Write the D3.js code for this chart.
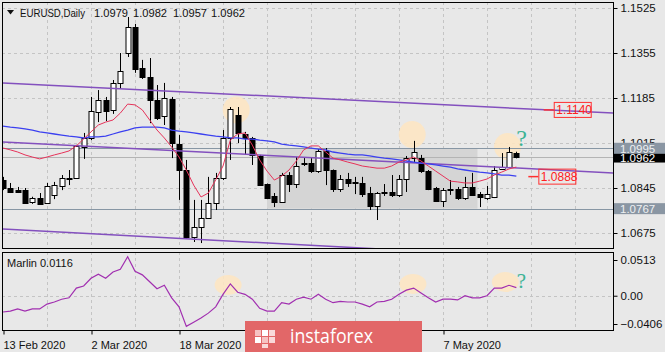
<!DOCTYPE html>
<html>
<head>
<meta charset="utf-8">
<script src="https://cdn.jsdelivr.net/npm/d3@7"></script>
<style>
  body { margin: 0; background: #e8e8e8; }
  svg { display: block; font-family: "Liberation Sans", Arial, sans-serif; }
</style>
</head>
<body>
<div id="chart"></div>
<script>
// EURUSD daily candles with two moving averages, a price channel and the Marlin oscillator.
const WIDTH = 665, HEIGHT = 352;

const dates = [
  "2020-02-13","2020-02-14","2020-02-17","2020-02-18","2020-02-19","2020-02-20","2020-02-21",
  "2020-02-24","2020-02-25","2020-02-26","2020-02-27","2020-02-28",
  "2020-03-02","2020-03-03","2020-03-04","2020-03-05","2020-03-06",
  "2020-03-09","2020-03-10","2020-03-11","2020-03-12","2020-03-13",
  "2020-03-16","2020-03-17","2020-03-18","2020-03-19","2020-03-20",
  "2020-03-23","2020-03-24","2020-03-25","2020-03-26","2020-03-27",
  "2020-03-30","2020-03-31","2020-04-01","2020-04-02","2020-04-03",
  "2020-04-06","2020-04-07","2020-04-08","2020-04-09","2020-04-10",
  "2020-04-13","2020-04-14","2020-04-15","2020-04-16","2020-04-17",
  "2020-04-20","2020-04-21","2020-04-22","2020-04-23","2020-04-24",
  "2020-04-27","2020-04-28","2020-04-29","2020-04-30","2020-05-01",
  "2020-05-04","2020-05-05","2020-05-06","2020-05-07","2020-05-08",
  "2020-05-11","2020-05-12","2020-05-13","2020-05-14","2020-05-15",
  "2020-05-18","2020-05-19","2020-05-20","2020-05-21"
];

const opens = [
  1.0875,1.0845,1.0837,1.0837,1.0792,1.0807,1.0788,1.0819,1.0853,1.0881,
  1.0883,1.1000,1.1034,1.1132,1.1177,1.1140,1.1242,1.1355,1.1453,1.1298,
  1.1264,1.1177,1.1117,1.1181,1.1011,1.0913,1.0660,1.0698,1.0732,1.0788,
  1.0883,1.1034,1.1121,1.1049,1.1034,1.0966,1.0860,1.0815,1.0792,1.0894,
  1.0860,1.0938,1.0939,1.0909,1.0985,1.0913,1.0841,1.0879,1.0864,1.0864,
  1.0826,1.0777,1.0828,1.0830,1.0819,1.0879,1.0958,1.0958,1.0909,1.0845,
  1.0796,1.0841,1.0841,1.0807,1.0849,1.0822,1.0807,1.0811,1.0917,1.0924,
  1.0979
];
const highs = [
  1.0887,1.0864,1.0849,1.0845,1.0812,1.0826,1.0864,1.0868,1.0894,1.0913,
  1.1008,1.1053,1.1189,1.1215,1.1189,1.1253,1.1355,1.1491,1.1465,1.1329,
  1.1336,1.1234,1.1242,1.1189,1.1045,1.0951,1.0800,1.0800,1.0887,1.0902,
  1.1064,1.1151,1.1151,1.1057,1.1038,1.0970,1.0862,1.0826,1.0902,1.0905,
  1.0962,1.0958,1.0958,1.0992,1.0996,1.0915,1.0894,1.0902,1.0887,1.0887,
  1.0849,1.0830,1.0860,1.0894,1.0894,1.0966,1.1023,1.0970,1.0913,1.0849,
  1.0845,1.0875,1.0849,1.0887,1.0902,1.0830,1.0853,1.0928,1.0977,1.1000,
  1.0982
];
const lows = [
  1.0837,1.0826,1.0826,1.0785,1.0785,1.0781,1.0785,1.0803,1.0837,1.0856,
  1.0879,1.0955,1.1026,1.1094,1.1098,1.1125,1.1219,1.1340,1.1280,1.1257,
  1.1090,1.1102,1.1083,1.0958,1.0800,1.0653,1.0641,1.0637,1.0728,1.0762,
  1.0875,1.0951,1.1015,1.0970,1.0932,1.0853,1.0803,1.0773,1.0790,1.0830,
  1.0845,1.0928,1.0902,1.0902,1.0856,1.0830,1.0830,1.0849,1.0822,1.0811,
  1.0762,1.0724,1.0815,1.0811,1.0811,1.0830,1.0943,1.0902,1.0837,1.0792,
  1.0773,1.0819,1.0800,1.0800,1.0815,1.0773,1.0800,1.0807,1.0913,1.0920,
  1.0957
];
const closes = [
  1.0845,1.0830,1.0830,1.0788,1.0807,1.0785,1.0853,1.0856,1.0883,1.0883,
  1.1004,1.1034,1.1136,1.1177,1.1136,1.1242,1.1287,1.1453,1.1295,1.1264,
  1.1177,1.1109,1.1185,1.1015,1.0913,1.0660,1.0698,1.0732,1.0788,1.0883,
  1.1034,1.1143,1.1053,1.1034,1.0970,1.0856,1.0807,1.0792,1.0894,1.0860,
  1.0928,1.0940,1.0909,1.0985,1.0913,1.0841,1.0879,1.0864,1.0866,1.0822,
  1.0777,1.0826,1.0830,1.0819,1.0879,1.0958,1.0981,1.0909,1.0841,1.0796,
  1.0837,1.0843,1.0807,1.0849,1.0819,1.0811,1.0822,1.0913,1.0924,1.0981,
  1.0962
];

// Fast (red) and slow (blue) moving averages.
const fastMa = [
  1.0996,1.0989,1.0981,1.0970,1.0962,1.0955,1.0962,1.0970,1.0977,1.0985,
  1.1004,1.1030,1.1057,1.1083,1.1094,1.1102,1.1128,1.1162,1.1159,1.1140,
  1.1102,1.1064,1.1034,1.1000,1.0962,1.0913,1.0856,1.0811,1.0826,1.0875,
  1.0928,1.1026,1.1049,1.1053,1.1007,1.0951,1.0909,1.0875,1.0890,1.0913,
  1.0947,1.0989,1.1004,1.1004,1.0981,1.0958,1.0951,1.0943,1.0936,1.0928,
  1.0924,1.0920,1.0920,1.0928,1.0943,1.0951,1.0962,1.0947,1.0928,1.0909,
  1.0890,1.0871,1.0868,1.0864,1.0864,1.0871,1.0879,1.0894,1.0905,1.0917,
  1.0924
];
const slowMa = [
  1.1079,1.1075,1.1072,1.1068,1.1064,1.1057,1.1053,1.1049,1.1045,1.1041,
  1.1038,1.1034,1.1038,1.1038,1.1041,1.1049,1.1057,1.1064,1.1072,1.1075,
  1.1075,1.1075,1.1072,1.1064,1.1060,1.1057,1.1053,1.1049,1.1045,1.1041,
  1.1038,1.1034,1.1034,1.1030,1.1030,1.1026,1.1023,1.1019,1.1011,1.1007,
  1.1004,1.1000,1.0996,1.0992,1.0989,1.0981,1.0977,1.0973,1.0970,1.0970,
  1.0966,1.0962,1.0958,1.0955,1.0951,1.0947,1.0943,1.0939,1.0936,1.0932,
  1.0928,1.0924,1.0917,1.0913,1.0909,1.0905,1.0902,1.0898,1.0894,1.0894,
  1.0890
];
const marlin = [
  -0.0234,-0.0220,-0.0190,-0.0220,-0.0190,-0.0190,-0.0120,-0.0090,-0.0050,-0.0030,
  0.0110,0.0140,0.0250,0.0310,0.0250,0.0340,0.0380,0.0560,0.0350,0.0300,
  0.0200,0.0100,0.0150,-0.0030,-0.0160,-0.0440,-0.0380,-0.0320,-0.0250,-0.0160,
  0.0020,0.0170,0.0050,0.0020,-0.0050,-0.0180,-0.0220,-0.0220,-0.0100,-0.0120,
  -0.0050,-0.0020,-0.0050,0.0020,-0.0050,-0.0100,-0.0080,-0.0090,-0.0090,-0.0120,
  -0.0160,-0.0090,-0.0080,-0.0050,0.0020,0.0080,0.0110,0.0040,-0.0030,-0.0090,
  -0.0050,-0.0050,-0.0060,0.0000,-0.0030,-0.0030,0.0000,0.0110,0.0110,0.0150,
  0.0116
];

// Channel lines: [bar, price] at both ends.
const channelBars = [0, 83.2];
const channelUpper = [1.1242, 1.1128];
const channelMiddle = [1.1019, 1.0902];
const channelLower = [1.0690, 1.0568];

const priceTicks = [1.0675, 1.0845, 1.1015, 1.1185, 1.1355, 1.1525];
const marlinTicks = [-0.0406, 0, 0.0513];
const gridBars = d3.range(6, 84, 6);
const dateTickBars = [0, 12, 24, 36, 48, 60];
const hiddenDateBars = [36, 48]; // under the watermark badge

const titleParts = [
  { x: 20, width: 65, text: "EURUSD,Daily" }, { x: 94, width: 34, text: "1.0979" },
  { x: 133, width: 34, text: "1.0982" }, { x: 173, width: 34, text: "1.0957" },
  { x: 211, width: 34, text: "1.0962" }
];

const resistance = 1.0995, support = 1.0767, bidPrice = 1.0962;
const rangeBox = { fromBar: 36, toBar: 64.7, top: 1.0995, bottom: 1.0767 };
const levelNotes = [{ bar: 75.1, price: 1.1140, text: "1.1140" }, { bar: 73, price: 1.0888, text: "1.0888" }];
const priceHighlights = [{ bar: 31.8, price: 1.1140 }, { bar: 55.8, price: 1.1047 }, { bar: 68.8, price: 1.1002 }];
const marlinHighlights = [{ bar: 30.7, value: 0.0154 }, { bar: 55.9, value: 0.0168 }, { bar: 68.5, value: 0.0197 }];

const MAIN = { left: 2, right: 613, top: 2, bottom: 248 };
const SUB = { top: 252, bottom: 330 };

const xBar = d3.scaleLinear().domain([0, 60]).range([3, 443]);
const yPrice = d3.scaleLinear().domain([1.0675, 1.1525]).range([233, 8]);
const yMarlin = d3.scaleLinear().domain([-0.0406, 0.0513]).range([324, 260]);

const svg = d3.select("#chart").append("svg")
  .attr("width", WIDTH).attr("height", HEIGHT);

svg.append("rect").attr("width", WIDTH).attr("height", HEIGHT).attr("fill", "#e8e8e8");

const defs = svg.append("defs");
defs.append("clipPath").attr("id", "clip-main").append("rect")
  .attr("x", MAIN.left).attr("y", MAIN.top)
  .attr("width", MAIN.right - MAIN.left).attr("height", MAIN.bottom - MAIN.top);
defs.append("clipPath").attr("id", "clip-sub").append("rect")
  .attr("x", MAIN.left).attr("y", SUB.top)
  .attr("width", MAIN.right - MAIN.left).attr("height", SUB.bottom - SUB.top);

const gridColor = "#c4c4c4";
const main = svg.append("g").attr("clip-path", "url(#clip-main)");
const sub = svg.append("g").attr("clip-path", "url(#clip-sub)");

// Dashed grid in both panels.
[[main, MAIN.top, MAIN.bottom], [sub, SUB.top, SUB.bottom]].forEach(([g, y0, y1]) => {
  g.selectAll(null).data(gridBars).join("line")
    .attr("x1", d => Math.round(xBar(d)) + 0.5).attr("x2", d => Math.round(xBar(d)) + 0.5)
    .attr("y1", y0).attr("y2", y1)
    .attr("stroke", gridColor).attr("stroke-dasharray", "3,3");
});
main.selectAll(null).data(priceTicks).join("line")
  .attr("x1", MAIN.left).attr("x2", MAIN.right)
  .attr("y1", d => Math.round(yPrice(d)) + 0.5).attr("y2", d => Math.round(yPrice(d)) + 0.5)
  .attr("stroke", gridColor).attr("stroke-dasharray", "3,3");
sub.append("line")
  .attr("x1", MAIN.left).attr("x2", MAIN.right)
  .attr("y1", Math.round(yMarlin(0)) + 0.5).attr("y2", Math.round(yMarlin(0)) + 0.5)
  .attr("stroke", gridColor).attr("stroke-dasharray", "3,3");

// Sideways range box behind the candles.
main.append("rect")
  .attr("x", xBar(rangeBox.fromBar)).attr("y", yPrice(rangeBox.top))
  .attr("width", xBar(rangeBox.toBar) - xBar(rangeBox.fromBar))
  .attr("height", yPrice(rangeBox.bottom) - yPrice(rangeBox.top))
  .attr("fill", "#d5d5d5");

main.selectAll(null).data(priceHighlights).join("circle")
  .attr("cx", d => xBar(d.bar)).attr("cy", d => yPrice(d.price)).attr("r", 13.5)
  .attr("fill", "#fde5c3").attr("opacity", 0.9);

// Horizontal levels.
[[resistance, "#8796a4"], [support, "#8796a4"], [bidPrice, "#b4b4b4"]].forEach(([p, c]) => {
  main.append("line")
    .attr("x1", MAIN.left).attr("x2", MAIN.right)
    .attr("y1", Math.round(yPrice(p)) + 0.5).attr("y2", Math.round(yPrice(p)) + 0.5)
    .attr("stroke", c).attr("stroke-width", 1);
});

// Candles.
const candles = main.append("g");
dates.forEach((d, i) => {
  const cx = Math.round(xBar(i)) + 0.5;
  const up = closes[i] >= opens[i];
  candles.append("line")
    .attr("x1", cx).attr("x2", cx)
    .attr("y1", yPrice(highs[i])).attr("y2", yPrice(lows[i]))
    .attr("stroke", "#000");
  const top = Math.round(yPrice(Math.max(opens[i], closes[i])));
  const bot = Math.round(yPrice(Math.min(opens[i], closes[i])));
  candles.append("rect")
    .attr("x", cx - 2.5).attr("y", top + 0.5)
    .attr("width", 5).attr("height", Math.max(bot - top, 1))
    .attr("fill", up ? "#fff" : "#000").attr("stroke", "#000");
});

// Channel.
const channelLine = prices => d3.line()
  .x(b => xBar(b)).y((b, k) => yPrice(prices[k]))(channelBars);
[channelUpper, channelMiddle, channelLower].forEach(prices => {
  main.append("path").attr("d", channelLine(prices))
    .attr("fill", "none").attr("stroke", "#8350be").attr("stroke-width", 1.5);
});

// Moving averages.
const maLine = values => d3.line().x((v, i) => xBar(i)).y(v => yPrice(v))(values);
main.append("path").attr("d", maLine(slowMa))
  .attr("fill", "none").attr("stroke", "#3b40f0").attr("stroke-width", 1.3);
main.append("path").attr("d", maLine(fastMa))
  .attr("fill", "none").attr("stroke", "#e6335a").attr("stroke-width", 1);

// Level notes with their short leader lines.
levelNotes.forEach(n => {
  const x = xBar(n.bar), y = yPrice(n.price);
  main.append("line").attr("x1", x - 10).attr("x2", x).attr("y1", y).attr("y2", y)
    .attr("stroke", "#ff3030").attr("stroke-width", 1.5);
  main.append("rect").attr("x", x + 0.5).attr("y", y - 7.5).attr("width", 37).attr("height", 15)
    .attr("fill", "none").attr("stroke", "#ff3030");
  main.append("text").attr("x", x + 2.5).attr("y", y + 4.5)
    .attr("font-size", 12).attr("fill", "#ff2020").text(n.text);
});

main.append("text").attr("x", xBar(70.7)).attr("y", yPrice(1.1004))
  .attr("text-anchor", "middle").attr("font-family", "'Liberation Serif', serif")
  .attr("font-size", 24).attr("fill", "#3db394").text("?");

// Marlin panel.
sub.selectAll(null).data(marlinHighlights).join("ellipse")
  .attr("cx", d => xBar(d.bar)).attr("cy", d => yMarlin(d.value)).attr("rx", 13.5).attr("ry", 10)
  .attr("fill", "#fde5c3").attr("opacity", 0.9);
sub.append("path")
  .attr("d", d3.line().x((v, i) => xBar(i)).y(v => yMarlin(v))(marlin))
  .attr("fill", "none").attr("stroke", "#a12fb0").attr("stroke-width", 1.2);
sub.append("text").attr("x", xBar(70.7)).attr("y", yMarlin(0.011))
  .attr("text-anchor", "middle").attr("font-family", "'Liberation Serif', serif")
  .attr("font-size", 21).attr("fill", "#3db394").text("?");

// Panel frames.
[[MAIN.top, MAIN.bottom], [SUB.top, SUB.bottom]].forEach(([y0, y1]) => {
  svg.append("rect").attr("x", MAIN.left + 0.5).attr("y", y0 + 0.5)
    .attr("width", MAIN.right - MAIN.left).attr("height", y1 - y0)
    .attr("fill", "none").attr("stroke", "#000");
});

// Right price axis.
const styleAxisText = sel => sel.attr("font-size", 11.5).attr("fill", "#111")
  .attr("font-family", "'Liberation Sans', Arial, sans-serif");

const priceAxis = svg.append("g")
  .attr("transform", `translate(${MAIN.right + 0.5},0)`)
  .call(d3.axisRight(yPrice).tickValues(priceTicks).tickSize(4).tickPadding(3)
    .tickFormat(d3.format(".4f")));
priceAxis.select(".domain").remove();
priceAxis.selectAll("text").call(styleAxisText);

const marlinAxis = svg.append("g")
  .attr("transform", `translate(${MAIN.right + 0.5},0)`)
  .call(d3.axisRight(yMarlin).tickValues(marlinTicks).tickSize(4).tickPadding(3)
    .tickFormat(d => d === 0 ? "0.00" : d3.format(".4f")(d)));
marlinAxis.select(".domain").remove();
marlinAxis.selectAll("text").call(styleAxisText);

// Price tags on the axis: bid tag first, then the level tags over it.
[[bidPrice, "#000", "#fff"], [resistance, "#8a96a3", "#eef0f2"], [support, "#8a96a3", "#eef0f2"]]
  .forEach(([p, bg, fg]) => {
    const y = yPrice(p);
    svg.append("rect").attr("x", MAIN.right + 1).attr("y", y - 5.5)
      .attr("width", WIDTH - MAIN.right).attr("height", 11).attr("fill", bg);
    svg.append("text").attr("x", MAIN.right + 7).attr("y", y + 4.5)
      .attr("font-size", 11.5).attr("fill", fg).text(d3.format(".4f")(p));
  });

// Date axis under the Marlin panel.
const parseDate = d3.timeParse("%Y-%m-%d");
const dateAxis = svg.append("g")
  .attr("transform", `translate(0,${SUB.bottom + 0.5})`)
  .call(d3.axisBottom(xBar).tickValues(dateTickBars).tickSize(4).tickPadding(3)
    .tickFormat(i => hiddenDateBars.includes(i) ? "" : d3.timeFormat("%-d %b %Y")(parseDate(dates[i]))));
dateAxis.select(".domain").remove();
dateAxis.selectAll(".tick line").attr("transform", "translate(0.5,0)");
dateAxis.selectAll("text").call(styleAxisText)
  .attr("text-anchor", "start").attr("x", 0).attr("dy", "1em").attr("font-size", 11);

// Titles.
svg.append("path").attr("d", "M7,10 L14,10 L10.5,14.5 Z").attr("fill", "#111");
svg.selectAll(null).data(titleParts).join("text")
  .attr("x", d => d.x).attr("y", 17).attr("font-size", 11).attr("fill", "#111")
  .attr("textLength", d => d.width).attr("lengthAdjust", "spacingAndGlyphs")
  .text(d => d.text);
svg.append("text").attr("x", 7).attr("y", 267).attr("font-size", 11).attr("fill", "#111")
  .text("Marlin 0.0116");

// Watermark badge.
const badge = svg.append("g").attr("transform", "translate(245,321)");
badge.append("rect").attr("width", 177).attr("height", 31).attr("fill", "#e26768");
[[10, 9, 6, 6, "#f6c2c2"], [17, 9, 6, 6, "#fff"], [10, 16, 6, 6, "#fff"], [17, 16, 6, 6, "#f6c2c2"],
 [24, 16, 6, 6, "#f9d9d9"], [17, 23, 6, 4, "#f9d9d9"], [24, 9, 6, 6, "#f9d9d9"]].forEach(([x, y, w, h, c]) => {
  badge.append("rect").attr("x", x).attr("y", y).attr("width", w).attr("height", h).attr("fill", c);
});
badge.append("text").attr("x", 45).attr("y", 22).attr("font-size", 20)
  .attr("font-family", "'Open Sans', sans-serif").attr("fill", "#fff")
  .attr("textLength", 83).attr("lengthAdjust", "spacingAndGlyphs").text("instaforex");
</script>
</body>
</html>
